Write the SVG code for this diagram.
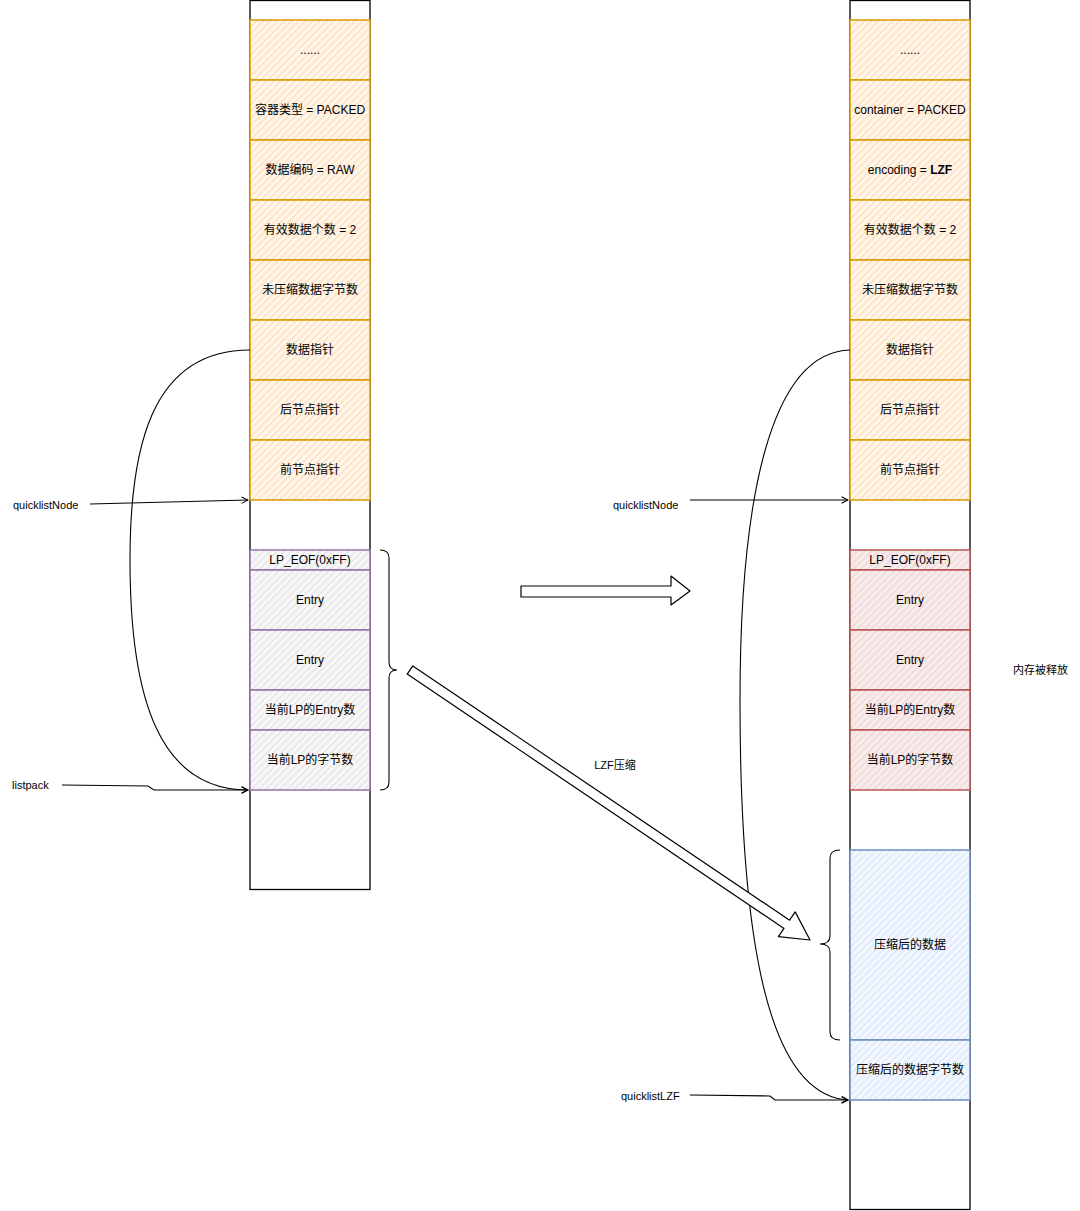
<svg xmlns="http://www.w3.org/2000/svg" width="1080" height="1211" viewBox="0 0 1080 1211">
<style>
text{font-family:"Liberation Sans","Noto Sans CJK SC",sans-serif;font-size:12px;fill:#000;text-anchor:middle;dominant-baseline:central}
.lbl{text-anchor:start;font-size:11px}
.sm{font-size:11px}
.col{fill:#fff;stroke:#000;stroke-width:1.3}
.o{fill:url(#hO);stroke:#d79b00;stroke-width:1.5}
.p{fill:url(#hP);stroke:#9673a6;stroke-width:1.5}
.r{fill:url(#hR);stroke:#b85450;stroke-width:1.5}
.b{fill:url(#hB);stroke:#6c8ebf;stroke-width:1.5}
.ln{fill:none;stroke:#000;stroke-width:1.1}
.big{fill:#fff;stroke:#000;stroke-width:1.2;stroke-linejoin:round}
</style>
<defs>
<pattern id="hO" width="5" height="5" patternUnits="userSpaceOnUse" patternTransform="rotate(45)">
<rect width="5" height="5" fill="#fff6ec"/><line x1="1" y1="0" x2="1" y2="5" stroke="#ffd9b0" stroke-width="1.2"/></pattern>
<pattern id="hP" width="5" height="5" patternUnits="userSpaceOnUse" patternTransform="rotate(45)">
<rect width="5" height="5" fill="#f8f8f8"/><line x1="1" y1="0" x2="1" y2="5" stroke="#e2e2e2" stroke-width="1.2"/></pattern>
<pattern id="hR" width="5" height="5" patternUnits="userSpaceOnUse" patternTransform="rotate(45)">
<rect width="5" height="5" fill="#f5eded"/><line x1="1" y1="0" x2="1" y2="5" stroke="#f2cfcd" stroke-width="1.2"/></pattern>
<pattern id="hB" width="5" height="5" patternUnits="userSpaceOnUse" patternTransform="rotate(45)">
<rect width="5" height="5" fill="#f4f8fe"/><line x1="1" y1="0" x2="1" y2="5" stroke="#d3e3fa" stroke-width="1.2"/></pattern>
<marker id="ah" viewBox="0 0 10 10" refX="9" refY="5" markerWidth="8" markerHeight="8" orient="auto" markerUnits="userSpaceOnUse">
<path d="M1,1 L9,5 L1,9" fill="none" stroke="#000" stroke-width="1.3"/></marker>
</defs>

<g id="left-column">
<rect class="col" x="250" y="0.5" width="120" height="889"/>
</g>
<g id="right-column">
<rect class="col" x="850" y="0.5" width="120" height="1209"/>
</g>

<g id="left-header">
<g id="l-dots"><rect class="o" x="250" y="20" width="120" height="60"/><text x="310" y="50">......</text></g>
<g id="l-container"><rect class="o" x="250" y="80" width="120" height="60"/><text x="310" y="110">容器类型 = PACKED</text></g>
<g id="l-encoding"><rect class="o" x="250" y="140" width="120" height="60"/><text x="310" y="170">数据编码 = RAW</text></g>
<g id="l-count"><rect class="o" x="250" y="200" width="120" height="60"/><text x="310" y="230">有效数据个数 = 2</text></g>
<g id="l-sz"><rect class="o" x="250" y="260" width="120" height="60"/><text x="310" y="290">未压缩数据字节数</text></g>
<g id="l-entry"><rect class="o" x="250" y="320" width="120" height="60"/><text x="310" y="350">数据指针</text></g>
<g id="l-next"><rect class="o" x="250" y="380" width="120" height="60"/><text x="310" y="410">后节点指针</text></g>
<g id="l-prev"><rect class="o" x="250" y="440" width="120" height="60"/><text x="310" y="470">前节点指针</text></g>
</g>

<g id="left-listpack">
<g id="l-eof"><rect class="p" x="250" y="550" width="120" height="20"/><text x="310" y="560">LP_EOF(0xFF)</text></g>
<g id="l-e1"><rect class="p" x="250" y="570" width="120" height="60"/><text x="310" y="600">Entry</text></g>
<g id="l-e2"><rect class="p" x="250" y="630" width="120" height="60"/><text x="310" y="660">Entry</text></g>
<g id="l-num"><rect class="p" x="250" y="690" width="120" height="40"/><text x="310" y="710">当前LP的Entry数</text></g>
<g id="l-bytes"><rect class="p" x="250" y="730" width="120" height="60"/><text x="310" y="760">当前LP的字节数</text></g>
</g>

<g id="right-header">
<g id="r-dots"><rect class="o" x="850" y="20" width="120" height="60"/><text x="910" y="50">......</text></g>
<g id="r-container"><rect class="o" x="850" y="80" width="120" height="60"/><text x="910" y="110">container = PACKED</text></g>
<g id="r-encoding"><rect class="o" x="850" y="140" width="120" height="60"/><text x="910" y="170">encoding = <tspan font-weight="bold">LZF</tspan></text></g>
<g id="r-count"><rect class="o" x="850" y="200" width="120" height="60"/><text x="910" y="230">有效数据个数 = 2</text></g>
<g id="r-sz"><rect class="o" x="850" y="260" width="120" height="60"/><text x="910" y="290">未压缩数据字节数</text></g>
<g id="r-entry"><rect class="o" x="850" y="320" width="120" height="60"/><text x="910" y="350">数据指针</text></g>
<g id="r-next"><rect class="o" x="850" y="380" width="120" height="60"/><text x="910" y="410">后节点指针</text></g>
<g id="r-prev"><rect class="o" x="850" y="440" width="120" height="60"/><text x="910" y="470">前节点指针</text></g>
</g>

<g id="right-listpack">
<g id="r-eof"><rect class="r" x="850" y="550" width="120" height="20"/><text x="910" y="560">LP_EOF(0xFF)</text></g>
<g id="r-e1"><rect class="r" x="850" y="570" width="120" height="60"/><text x="910" y="600">Entry</text></g>
<g id="r-e2"><rect class="r" x="850" y="630" width="120" height="60"/><text x="910" y="660">Entry</text></g>
<g id="r-num"><rect class="r" x="850" y="690" width="120" height="40"/><text x="910" y="710">当前LP的Entry数</text></g>
<g id="r-bytes"><rect class="r" x="850" y="730" width="120" height="60"/><text x="910" y="760">当前LP的字节数</text></g>
</g>

<g id="right-lzf">
<g id="r-comp"><rect class="b" x="850" y="850" width="120" height="190"/><text x="910" y="945">压缩后的数据</text></g>
<g id="r-compsz"><rect class="b" x="850" y="1040" width="120" height="60"/><text x="910" y="1070">压缩后的数据字节数</text></g>
</g>

<g id="labels">
<text class="lbl" x="13" y="505">quicklistNode</text>
<text class="lbl" x="12" y="785">listpack</text>
<text class="lbl" x="613" y="505">quicklistNode</text>
<text class="lbl" x="621" y="1096">quicklistLZF</text>
<text class="sm" x="615" y="765">LZF压缩</text>
<text class="lbl" x="1013" y="670">内存被释放</text>
</g>

<g id="connectors">
<path class="ln" d="M90,504 L248,500" marker-end="url(#ah)"/>
<path class="ln" d="M62,785 L148,786 L154,790 L248,790" marker-end="url(#ah)"/>
<path class="ln" d="M250,350 C150,350 130,450 130,560 C130,700 160,790 248,790" marker-end="url(#ah)"/>
<path class="ln" d="M690,500 L848,500" marker-end="url(#ah)"/>
<path class="ln" d="M690,1095 L770,1096 L775,1100 L848,1100" marker-end="url(#ah)"/>
<path class="ln" d="M850,350 C770,352 740,500 740,700 C740,950 770,1095 848,1100" marker-end="url(#ah)"/>
<path class="ln" d="M380,550 Q389,550 389,558 L389,662 Q389,670 397,670 Q389,670 389,678 L389,782 Q389,790 380,790"/>
<path class="ln" d="M840,850 Q830,850 830,858 L830,936 Q830,944 820,944 Q830,944 830,952 L830,1032 Q830,1040 840,1040"/>
<polygon class="big" points="521,586 671,586 671,576 690,591 671,605 671,597 521,597"/>
<polygon class="big" points="412.8,665.9 789.6,920.2 795.2,911.9 810,940 778.4,936.7 784,928.4 407.2,674.1"/>
</g>
</svg>
